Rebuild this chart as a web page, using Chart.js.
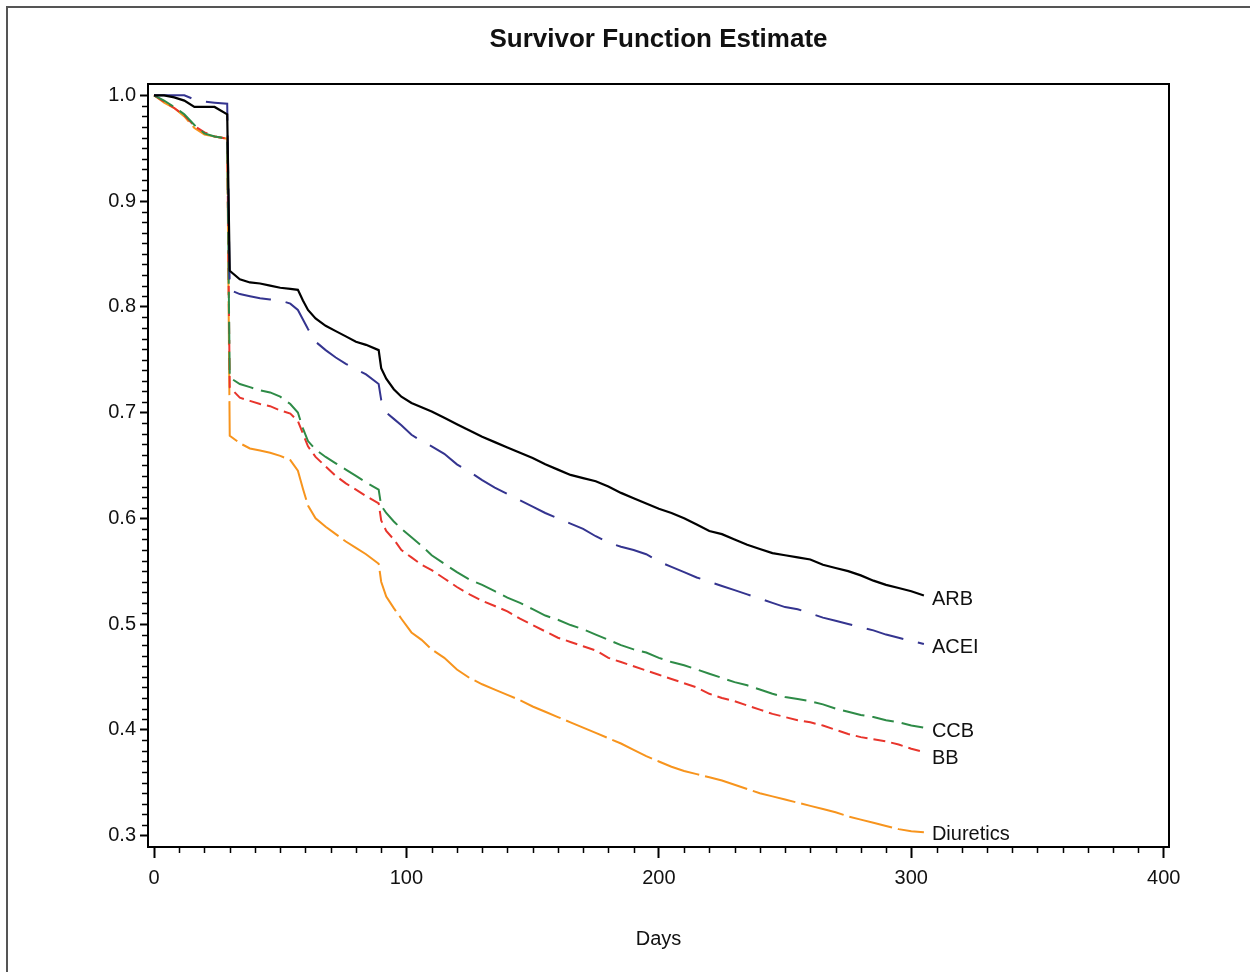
<!DOCTYPE html>
<html>
<head>
<meta charset="utf-8">
<title>Survivor Function Estimate</title>
<script src="https://cdn.jsdelivr.net/npm/chart.js@4/dist/chart.umd.min.js"></script>
<style>
  html, body { margin: 0; padding: 0; background: #fff; }
  #wrap { width: 1250px; height: 972px; }
</style>
</head>
<body>
<div id="wrap"><canvas id="survival" width="1250" height="972"></canvas></div>
<script>
const days = [0, 4, 8, 12, 16, 20, 24, 29, 30, 34, 38, 42, 46, 50, 54, 57, 59, 61, 64, 68,
  72, 76, 80, 84, 89, 90, 92, 95, 98, 102, 106, 110, 115, 120, 125, 130, 135, 140, 145, 150,
  155, 160, 165, 170, 175, 180, 185, 190, 195, 200, 205, 210, 215, 220, 225, 230, 235, 240, 245, 250,
  255, 260, 265, 270, 275, 280, 285, 290, 295, 300, 305];

const arb = [1.0, 1.0, 0.998, 0.995, 0.989, 0.989, 0.989, 0.982, 0.834, 0.826, 0.823, 0.822, 0.820, 0.818, 0.817, 0.816, 0.806, 0.797, 0.789, 0.782,
  0.777, 0.772, 0.767, 0.764, 0.759, 0.742, 0.732, 0.722, 0.715, 0.709, 0.705, 0.701, 0.695, 0.689, 0.683, 0.677, 0.672, 0.667, 0.662, 0.657,
  0.651, 0.646, 0.641, 0.638, 0.635, 0.630, 0.624, 0.619, 0.614, 0.609, 0.605, 0.600, 0.594, 0.588, 0.585, 0.580, 0.575, 0.571, 0.567, 0.565,
  0.563, 0.561, 0.556, 0.553, 0.550, 0.546, 0.541, 0.537, 0.534, 0.531, 0.527];

const acei = [1.0, 1.0, 1.0, 1.0, 0.996, 0.994, 0.993, 0.992, 0.816, 0.812, 0.810, 0.808, 0.807, 0.806, 0.803, 0.797, 0.788, 0.779, 0.767, 0.759,
  0.752, 0.746, 0.741, 0.736, 0.727, 0.712, 0.700, 0.694, 0.688, 0.679, 0.673, 0.668, 0.661, 0.651, 0.644, 0.636, 0.629, 0.623, 0.617, 0.611,
  0.605, 0.600, 0.595, 0.590, 0.583, 0.577, 0.573, 0.570, 0.566, 0.559, 0.554, 0.549, 0.544, 0.540, 0.536, 0.532, 0.528, 0.524, 0.520, 0.516,
  0.514, 0.510, 0.506, 0.503, 0.500, 0.497, 0.494, 0.490, 0.487, 0.484, 0.481];

const ccb = [1.0, 0.995, 0.989, 0.982, 0.972, 0.964, 0.961, 0.959, 0.733, 0.727, 0.724, 0.721, 0.719, 0.715, 0.708, 0.700, 0.685, 0.673, 0.665, 0.658,
  0.652, 0.646, 0.640, 0.634, 0.627, 0.612, 0.605, 0.597, 0.590, 0.582, 0.574, 0.565, 0.557, 0.549, 0.542, 0.537, 0.531, 0.525, 0.520, 0.514,
  0.508, 0.504, 0.499, 0.495, 0.490, 0.485, 0.480, 0.476, 0.473, 0.468, 0.464, 0.461, 0.457, 0.453, 0.449, 0.445, 0.442, 0.438, 0.434, 0.431,
  0.429, 0.427, 0.424, 0.420, 0.417, 0.414, 0.412, 0.409, 0.407, 0.404, 0.402];

const bb = [1.0, 0.994, 0.988, 0.981, 0.971, 0.965, 0.961, 0.959, 0.724, 0.714, 0.711, 0.708, 0.706, 0.702, 0.699, 0.692, 0.680, 0.668, 0.658, 0.649,
  0.640, 0.633, 0.627, 0.621, 0.614, 0.598, 0.588, 0.580, 0.570, 0.563, 0.556, 0.551, 0.543, 0.535, 0.528, 0.522, 0.517, 0.512, 0.505, 0.499,
  0.493, 0.487, 0.483, 0.479, 0.475, 0.468, 0.464, 0.460, 0.456, 0.452, 0.448, 0.444, 0.440, 0.434, 0.430, 0.427, 0.423, 0.419, 0.415, 0.412,
  0.409, 0.407, 0.404, 0.400, 0.396, 0.393, 0.391, 0.389, 0.386, 0.382, 0.379];

const diuretics = [1.0, 0.993, 0.988, 0.980, 0.969, 0.963, 0.961, 0.959, 0.678, 0.671, 0.666, 0.664, 0.662, 0.659, 0.655, 0.645, 0.628, 0.612, 0.600, 0.592,
  0.585, 0.578, 0.572, 0.566, 0.557, 0.540, 0.526, 0.515, 0.505, 0.492, 0.485, 0.476, 0.468, 0.457, 0.449, 0.443, 0.438, 0.433, 0.428, 0.422,
  0.417, 0.412, 0.407, 0.402, 0.397, 0.392, 0.387, 0.381, 0.375, 0.370, 0.365, 0.361, 0.358, 0.355, 0.352, 0.348, 0.344, 0.340, 0.337, 0.334,
  0.331, 0.328, 0.325, 0.322, 0.318, 0.315, 0.312, 0.309, 0.306, 0.304, 0.303];

const groups = ['ARB', 'ACEI', 'CCB', 'BB', 'Diuretics'];
const labelValues = [0.5235, 0.478, 0.398, 0.373, 0.3012];
const xTicks = [0, 100, 200, 300, 400];
const yTicks = [0.3, 0.4, 0.5, 0.6, 0.7, 0.8, 0.9, 1.0];

const series = [arb, acei, ccb, bb, diuretics];
const colors = ['#000000', '#34348f', '#2e8b47', '#e8352c', '#f7941d'];
const dashes = [[], [38, 15], [22, 8], [12, 6], [44, 6]];

const pts = vals => vals.map((v, i) => ({x: days[i], y: v}));

// frame, outer border, minor ticks and curve labels
const extras = {
  id: 'extras',
  beforeDraw(chart) {
    const ctx = chart.ctx;
    ctx.save();
    ctx.fillStyle = '#fff';
    ctx.fillRect(0, 0, chart.width, chart.height);
    ctx.strokeStyle = '#555';
    ctx.lineWidth = 2;
    ctx.beginPath();
    ctx.moveTo(7, chart.height);
    ctx.lineTo(7, 7);
    ctx.lineTo(chart.width, 7);
    ctx.stroke();
    ctx.restore();
  },
  afterDraw(chart) {
    const {ctx, chartArea: a, scales: {x, y}} = chart;
    ctx.save();
    ctx.strokeStyle = '#000';
    ctx.lineWidth = 2;
    ctx.strokeRect(a.left, a.top, a.right - a.left, a.bottom - a.top);
    ctx.lineWidth = 1.5;
    ctx.beginPath();
    for (let d = 10; d < 400; d += 10) {
      if (d % 100 === 0) continue;
      const px = Math.round(x.getPixelForValue(d)) + 0.5;
      ctx.moveTo(px, a.bottom);
      ctx.lineTo(px, a.bottom + 6);
    }
    for (let k = 31; k < 100; k++) {
      if (k % 10 === 0) continue;
      const py = Math.round(y.getPixelForValue(k / 100)) + 0.5;
      ctx.moveTo(a.left, py);
      ctx.lineTo(a.left - 6, py);
    }
    ctx.stroke();
    ctx.fillStyle = '#111';
    ctx.font = '20px "Liberation Sans", Arial, sans-serif';
    ctx.textBaseline = 'middle';
    ctx.textAlign = 'left';
    const lx = x.getPixelForValue(days[days.length - 1]) + 8;
    groups.forEach((g, i) => ctx.fillText(g, lx, y.getPixelForValue(labelValues[i])));
    ctx.restore();
  }
};

new Chart(document.getElementById('survival'), {
  type: 'line',
  data: {
    datasets: groups.map((g, i) => ({
      label: g,
      data: pts(series[i]),
      borderColor: colors[i],
      borderWidth: i === 0 ? 2.2 : 2,
      borderDash: dashes[i],
      pointRadius: 0,
      tension: 0,
      fill: false
    }))
  },
  options: {
    responsive: false,
    animation: false,
    layout: {padding: {left: 0, top: 0, right: 81, bottom: 0}},
    plugins: {
      legend: {display: false},
      tooltip: {enabled: false},
      title: {
        display: true,
        text: 'Survivor Function Estimate',
        fullSize: false,
        color: '#111',
        font: {family: '"Liberation Sans", Arial, sans-serif', size: 26, weight: 'bold'},
        padding: {top: 24.6, bottom: 28.2}
      }
    },
    scales: {
      x: {
        type: 'linear',
        min: -2.38,
        max: 402.1,
        afterFit: s => { s.height = 972 - 847; },
        afterBuildTicks: s => { s.ticks = xTicks.map(v => ({value: v})); },
        ticks: {
          color: '#111',
          padding: 8,
          font: {family: '"Liberation Sans", Arial, sans-serif', size: 20},
          maxRotation: 0
        },
        grid: {drawOnChartArea: false, tickLength: 11, tickWidth: 2, tickColor: '#000'},
        border: {color: '#000', width: 2},
        title: {
          display: true,
          text: 'Days',
          color: '#111',
          font: {family: '"Liberation Sans", Arial, sans-serif', size: 20},
          padding: {bottom: 21}
        }
      },
      y: {
        min: 0.2891,
        max: 1.0107,
        afterFit: s => { s.width = 148; },
        afterBuildTicks: s => { s.ticks = yTicks.map(v => ({value: v})); },
        ticks: {
          color: '#111',
          padding: 4,
          font: {family: '"Liberation Sans", Arial, sans-serif', size: 20},
          callback: v => v.toFixed(1)
        },
        grid: {drawOnChartArea: false, tickLength: 8, tickWidth: 2, tickColor: '#000'},
        border: {color: '#000', width: 2}
      }
    }
  },
  plugins: [extras]
});
</script>
</body>
</html>
